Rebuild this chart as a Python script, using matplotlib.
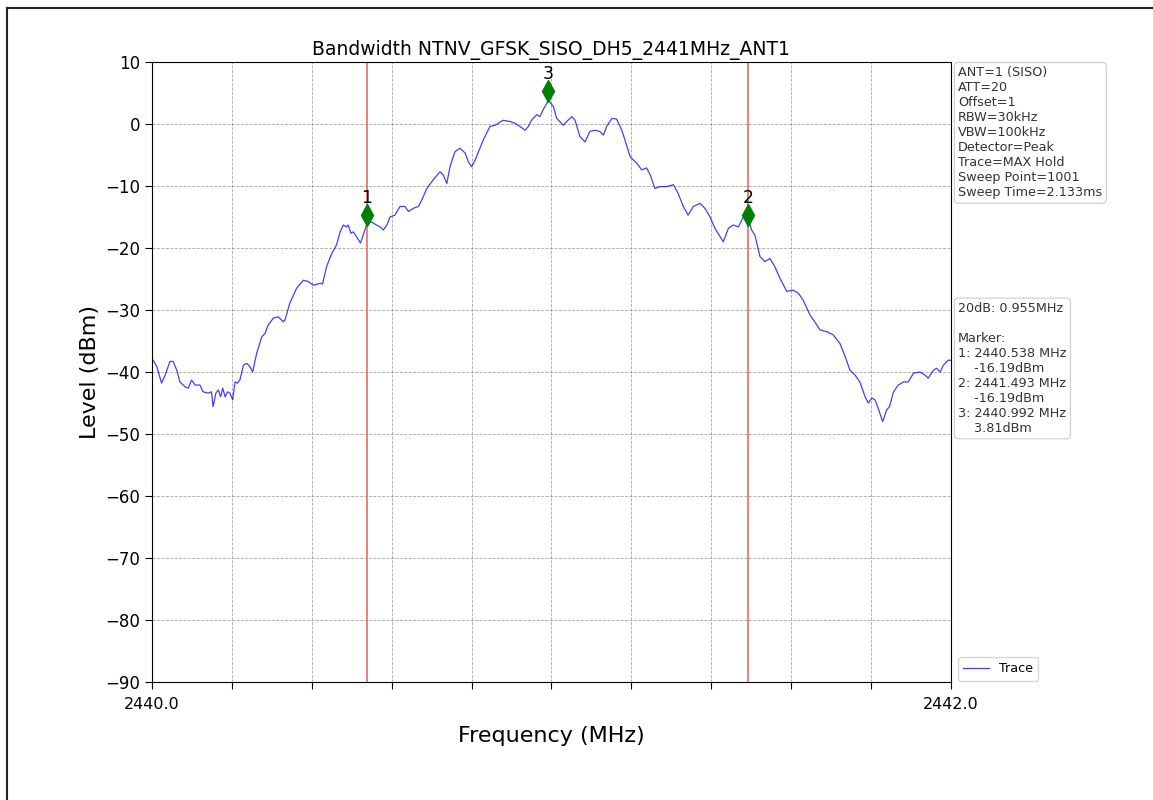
import matplotlib
matplotlib.use("Agg")
import matplotlib.pyplot as plt
from matplotlib.lines import Line2D
import numpy as np

# trace (offset from 2440 MHz, level in dBm)
freq_off = [0.000, 0.012, 0.024, 0.033, 0.045, 0.053, 0.062, 0.070, 0.083, 0.091,
            0.099, 0.108, 0.120, 0.128, 0.141, 0.149, 0.153, 0.160, 0.166, 0.172,
            0.177, 0.183, 0.189, 0.195, 0.202, 0.208, 0.214, 0.220, 0.229, 0.237,
            0.245, 0.252, 0.262, 0.275, 0.283, 0.291, 0.304, 0.316, 0.329, 0.333,
            0.345, 0.362, 0.379, 0.391, 0.404, 0.421, 0.427, 0.437, 0.450, 0.462,
            0.471, 0.479, 0.487, 0.491, 0.498, 0.504, 0.512, 0.522, 0.533, 0.538,
            0.550, 0.562, 0.571, 0.579, 0.588, 0.596, 0.608, 0.621, 0.633, 0.642,
            0.654, 0.667, 0.675, 0.688, 0.704, 0.721, 0.729, 0.738, 0.746, 0.758,
            0.771, 0.784, 0.792, 0.800, 0.809, 0.821, 0.829, 0.846, 0.859, 0.879,
            0.896, 0.909, 0.921, 0.934, 0.942, 0.950, 0.963, 0.971, 0.980, 0.989,
            0.992, 1.005, 1.013, 1.030, 1.038, 1.051, 1.059, 1.071, 1.084, 1.096,
            1.109, 1.121, 1.130, 1.138, 1.151, 1.163, 1.176, 1.184, 1.197, 1.213,
            1.226, 1.238, 1.247, 1.259, 1.272, 1.288, 1.305, 1.317, 1.330, 1.342,
            1.355, 1.372, 1.384, 1.397, 1.409, 1.430, 1.443, 1.455, 1.468, 1.480,
            1.493, 1.501, 1.509, 1.522, 1.534, 1.547, 1.559, 1.572, 1.589, 1.605,
            1.618, 1.630, 1.647, 1.664, 1.672, 1.689, 1.705, 1.722, 1.735, 1.747,
            1.760, 1.772, 1.785, 1.793, 1.802, 1.810, 1.818, 1.829, 1.839, 1.846,
            1.856, 1.868, 1.881, 1.893, 1.906, 1.922, 1.935, 1.943, 1.956, 1.964,
            1.973, 1.981, 1.993, 2.000]
level = [-37.8, -39.1, -41.8, -40.5, -38.3, -38.3, -39.7, -41.6, -42.4, -42.6,
         -41.3, -42.1, -42.1, -43.2, -43.4, -43.2, -45.6, -43.4, -42.9, -44.0,
         -42.6, -44.0, -43.2, -43.4, -44.5, -41.6, -41.8, -41.3, -38.9, -38.6,
         -39.1, -40.0, -37.0, -34.3, -33.8, -32.4, -31.3, -31.1, -31.9, -31.6,
         -28.9, -26.5, -25.2, -25.4, -26.0, -25.7, -25.8, -23.0, -20.9, -19.5,
         -17.4, -16.3, -16.6, -16.3, -17.6, -17.4, -18.2, -19.2, -17.1, -16.0,
         -15.8, -16.3, -16.6, -17.1, -16.3, -15.0, -14.7, -13.3, -13.3, -14.1,
         -13.6, -13.3, -12.3, -10.4, -9.0, -7.7, -8.2, -9.6, -6.9, -4.5,
         -3.9, -4.7, -6.1, -6.9, -5.8, -3.9, -2.6, -0.4, -0.2, 0.6,
         0.4, 0.1, -0.4, -1.0, -0.4, 0.6, 1.5, 1.2, 2.4, 3.4,
         3.81, 2.8, 0.9, -0.2, 0.4, 1.2, 0.6, -2.0, -2.9, -1.2,
         -1.0, -1.2, -1.8, -0.4, 0.9, 0.8, -1.0, -2.6, -5.3, -6.3,
         -7.4, -7.1, -8.2, -10.4, -10.1, -10.1, -9.8, -11.2, -13.3, -14.7,
         -13.3, -12.8, -13.6, -15.0, -16.8, -19.0, -16.8, -16.3, -16.6, -15.0,
         -15.4, -17.1, -17.9, -21.4, -22.2, -21.7, -23.0, -24.9, -27.0, -26.8,
         -27.3, -28.4, -30.8, -32.4, -33.2, -33.5, -34.0, -35.4, -37.5, -39.7,
         -40.5, -41.6, -44.0, -45.0, -44.2, -44.5, -45.9, -48.0, -46.1, -45.6,
         -43.2, -42.1, -41.6, -41.6, -40.2, -40.0, -40.5, -41.0, -39.7, -39.4,
         -40.0, -38.9, -38.1, -38.1]

marker_freq = [2440.538, 2441.493, 2440.992]
marker_level = [-16.19, -16.19, 3.81]
marker_names = ["1", "2", "3"]
bw_lines = [2440.538, 2441.493]

title = "Bandwidth NTNV_GFSK_SISO_DH5_2441MHz_ANT1"
settings = ["ANT=1 (SISO)", "ATT=20", "Offset=1", "RBW=30kHz", "VBW=100kHz",
            "Detector=Peak", "Trace=MAX Hold", "Sweep Point=1001",
            "Sweep Time=2.133ms"]
bw_text = "20dB: 0.955MHz"

x_ticks = np.arange(2440.0, 2442.01, 0.2)
x_labels = ["2440.0"] + [""] * 9 + ["2442.0"]
y_ticks = np.arange(-90, 11, 10)

freq = 2440.0 + np.array(freq_off)

fig = plt.figure(figsize=(11.53, 8.0), dpi=100)
ax = fig.add_axes([0.1318, 0.1475, 0.6930, 0.7750])

ax.plot(freq, level, color="blue", lw=0.9, alpha=0.75, label="Trace")
for xv in bw_lines:
    ax.axvline(xv, color="#e8504a", lw=1.2, alpha=0.85)

# markers are drawn slightly above the trace level
mk_y = np.array(marker_level) + 1.5
ax.plot(marker_freq, mk_y, linestyle="none", marker="d", color="green",
        markersize=11)
for fx, my, nm in zip(marker_freq, mk_y, marker_names):
    ax.text(fx, my + 1.3, nm, ha="center", va="bottom", fontsize=12.5)

ax.set_xlim(2440.0, 2442.0)
ax.set_ylim(-90, 10)
ax.set_xticks(x_ticks)
ax.set_xticklabels(x_labels, fontsize=11.5)
ax.set_yticks(y_ticks)
ax.tick_params(axis="y", labelsize=12, length=5)
ax.tick_params(axis="x", length=5, pad=6)
ax.grid(True, linestyle="--", color="gray", lw=0.6, alpha=0.7)

ax.set_title(title, fontsize=13.5, pad=5)
ax.set_xlabel("Frequency (MHz)", fontsize=16, labelpad=10)
ax.set_ylabel("Level (dBm)", fontsize=16)

box = dict(boxstyle="round,pad=0.3", fc="white", ec="#cccccc", lw=0.8)
ax.text(1.009, 0.993, "\n".join(settings), transform=ax.transAxes,
        fontsize=9.2, va="top", ha="left", color="#333333", bbox=box,
        linespacing=1.2)

mk_lines = [bw_text, "", "Marker:"]
for nm, fx, lv in zip(marker_names, marker_freq, marker_level):
    mk_lines.append(f"{nm}: {fx:.3f} MHz")
    mk_lines.append(f"    {lv:.2f}dBm")
ax.text(1.009, 0.613, "\n".join(mk_lines), transform=ax.transAxes,
        fontsize=9.2, va="top", ha="left", color="#333333", bbox=box,
        linespacing=1.2)

ax.legend(loc="lower left", bbox_to_anchor=(1.001, -0.008), fontsize=9.2,
          frameon=True, edgecolor="#cccccc", handlelength=2)

# screenshot frame
fig.add_artist(Line2D([0.006, 0.006], [0.0, 0.99], color="#222222", lw=1.5))
fig.add_artist(Line2D([0.006, 1.0], [0.99, 0.99], color="#222222", lw=1.5))

fig.savefig("out.png", dpi=100)
